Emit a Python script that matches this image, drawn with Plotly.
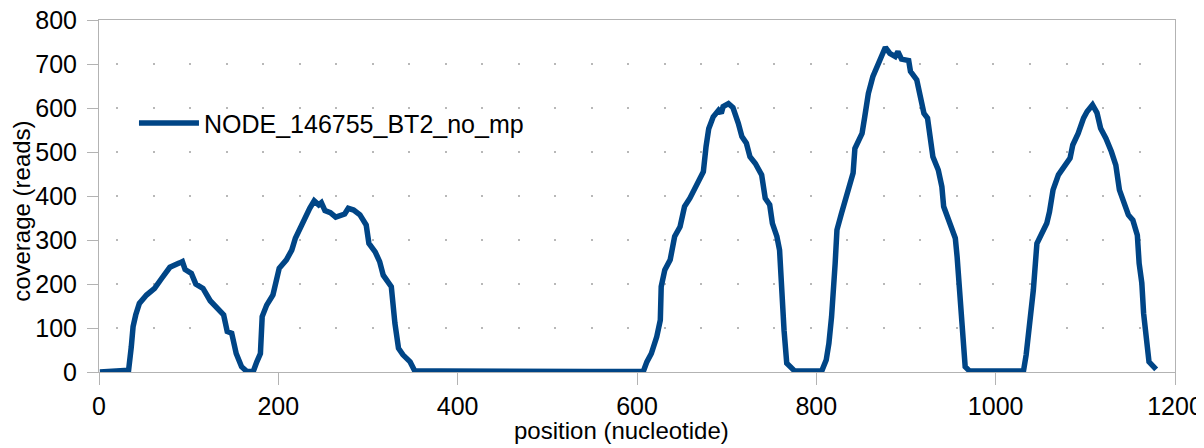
import plotly.graph_objects as go

series_name = "NODE_146755_BT2_no_mp"
x_title = "position (nucleotide)"
y_title = "coverage (reads)"
position = [1, 23, 33, 36, 38, 41, 45, 53, 62, 70, 79, 90, 93, 96, 103, 108, 116, 124, 133, 139,
            143, 148, 153, 159, 165, 172, 176, 180, 182, 187, 194, 198, 201, 209, 215, 219, 224, 230,
            235, 240, 245, 248, 252, 258, 264, 274, 278, 284, 291, 298, 301, 308, 313, 317, 323, 326,
            330, 334, 339, 347, 352, 380, 547, 607, 611, 616, 622, 626, 627, 631, 637, 642, 648, 653,
            659, 666, 674, 677, 680, 685, 691, 694, 696, 702, 707, 713, 717, 722, 726, 732, 739, 743,
            748, 751, 756, 759, 761, 764, 767, 772, 776, 806, 811, 814, 817, 821, 823, 828, 834, 841,
            843, 851, 854, 858, 863, 868, 873, 877, 882, 888, 891, 895, 903, 905, 912, 916, 920, 924,
            926, 930, 936, 940, 942, 949, 955, 957, 960, 964, 966, 971, 1031, 1034, 1039, 1042, 1046,
            1051, 1057, 1060, 1064, 1070, 1077, 1083, 1086, 1092, 1098, 1102, 1108, 1113, 1117, 1123,
            1129, 1134, 1138, 1143, 1148, 1153, 1158, 1160, 1163, 1165, 1168, 1171, 1179]
coverage = [0, 3, 4, 57, 103, 130, 156, 175, 190, 213, 238, 248, 251, 233, 224, 200, 190, 162, 141, 130,
            92, 88, 42, 12, 1, 1, 23, 42, 126, 152, 175, 209, 236, 255, 277, 304, 327, 349,
            372, 389, 380, 385, 367, 362, 352, 359, 372, 368, 357, 334, 292, 273, 251, 220, 201, 194,
            111, 54, 39, 23, 3, 2, 1, 1, 23, 42, 80, 118, 194, 232, 255, 308, 330, 376,
            395, 425, 455, 512, 553, 580, 595, 588, 603, 610, 601, 565, 535, 520, 489, 474, 448, 395,
            380, 338, 308, 277, 186, 95, 20, 8, 2, 2, 27, 65, 126, 247, 323, 360, 406, 452,
            508, 542, 580, 633, 671, 694, 713, 738, 724, 717, 728, 711, 708, 683, 664, 630, 588, 577,
            539, 489, 459, 421, 376, 338, 304, 262, 179, 50, 12, 2, 2, 39, 118, 186, 292,
            311, 338, 364, 414, 448, 467, 486, 516, 542, 577, 592, 607, 589, 554, 531,
            501, 470, 414, 383, 357, 345, 311, 247, 202, 133, 65, 23, 6]

x_ticks = [0, 200, 400, 600, 800, 1000, 1200]
y_ticks = [0, 100, 200, 300, 400, 500, 600, 700, 800]

FONT = "Liberation Sans, Arial, sans-serif"
AXIS_GRAY = "#b3b3b3"

fig = go.Figure()
fig.add_trace(go.Scatter(
    x=position, y=coverage, mode="lines", name=series_name,
    line=dict(color="#004586", width=5.5),
))

fig.update_layout(
    width=1196, height=440,
    margin=dict(l=91, r=29, t=12, b=76),
    paper_bgcolor="white", plot_bgcolor="white",
    font=dict(family=FONT, size=25, color="black"),
    showlegend=True,
    legend=dict(x=0.0325, y=0.707, xanchor="left", yanchor="middle",
                bgcolor="rgba(0,0,0,0)", font=dict(size=25), itemwidth=60),
    xaxis=dict(
        range=[0, 1200], tickvals=x_ticks, ticks="outside", ticklen=12,
        tickcolor=AXIS_GRAY, showline=True, linecolor=AXIS_GRAY, linewidth=1,
        mirror=True, showgrid=False, zeroline=False, automargin=False,
        ticklabeloverflow="allow",
        tickfont=dict(size=25),
    ),
    yaxis=dict(
        range=[0, 800], tickvals=y_ticks, ticks="outside", ticklen=11,
        tickcolor=AXIS_GRAY, showline=True, linecolor=AXIS_GRAY, linewidth=1,
        mirror=True, showgrid=True, gridcolor="#b8b8b8", gridwidth=2,
        griddash="0.01px,17px,2px,17.51px", zeroline=False, automargin=False,
        ticklabeloverflow="allow", ticklabelstandoff=5,
        tickfont=dict(size=25),
    ),
    annotations=[
        dict(text=x_title, xref="paper", yref="paper", x=0.486, y=0,
             xanchor="center", yanchor="middle", yshift=-58, showarrow=False,
             font=dict(size=24)),
        dict(text=y_title, xref="paper", yref="paper", x=0, y=0.455,
             xanchor="center", yanchor="middle", xshift=-77, textangle=-90,
             showarrow=False, font=dict(size=24)),
    ],
)

fig.write_html("out.html")
